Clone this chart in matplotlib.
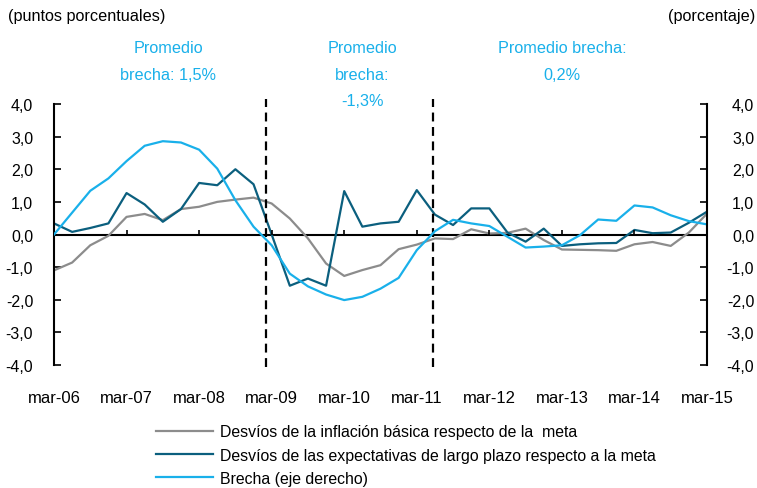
import matplotlib
matplotlib.use("Agg")
import matplotlib.pyplot as plt

plt.rcParams['font.family'] = ['Liberation Sans', 'DejaVu Sans']

# Quarterly data, mar-06 .. mar-15
tick_labels = ["mar-06", "mar-07", "mar-08", "mar-09", "mar-10",
               "mar-11", "mar-12", "mar-13", "mar-14", "mar-15"]

inflacion = [-1.10, -0.86, -0.33, -0.04, 0.54, 0.63, 0.44, 0.78, 0.85, 1.00,
             1.07, 1.13, 0.95, 0.49, -0.12, -0.89, -1.27, -1.09, -0.94, -0.45,
             -0.31, -0.12, -0.14, 0.16, 0.03, 0.05, 0.18, -0.17, -0.46, -0.47,
             -0.48, -0.50, -0.30, -0.23, -0.35, 0.06, 0.64]

expectativas = [0.34, 0.08, 0.20, 0.34, 1.27, 0.92, 0.39, 0.78, 1.58, 1.51,
                2.00, 1.54, 0.00, -1.57, -1.35, -1.57, 1.33, 0.24, 0.34, 0.39,
                1.36, 0.61, 0.29, 0.80, 0.80, 0.06, -0.22, 0.18, -0.35, -0.30,
                -0.27, -0.26, 0.14, 0.04, 0.06, 0.36, 0.70]

brecha = [0.00, 0.67, 1.34, 1.72, 2.25, 2.72, 2.86, 2.82, 2.60, 2.02,
          1.05, 0.24, -0.33, -1.20, -1.59, -1.84, -2.01, -1.91, -1.66, -1.33,
          -0.48, 0.10, 0.45, 0.34, 0.26, -0.07, -0.40, -0.37, -0.33, -0.02,
          0.46, 0.42, 0.89, 0.83, 0.59, 0.41, 0.31]

# period breaks (in quarters from mar-06)
cortes = [11.7, 20.9]
promedios = ["Promedio\nbrecha: 1,5%", "Promedio\nbrecha:\n-1,3%", "Promedio brecha:\n0,2%"]
prom_x = [6.3, 17.0, 28.0]

c_gris = "#8c8c8c"
c_oscuro = "#0b5f7e"
c_claro = "#19b0ea"

x = list(range(len(brecha)))

fig = plt.figure(figsize=(7.57, 4.89), dpi=100)
ax = fig.add_axes([54/757, (489-366)/489, (707-54)/757, 261/489])
ax2 = ax.twinx()

l1, = ax.plot(x, inflacion, color=c_gris, lw=1.6)
l2, = ax.plot(x, expectativas, color=c_oscuro, lw=1.6)
l3, = ax2.plot(x, brecha, color=c_claro, lw=1.6)

ytl = [f"{v:.1f}".replace(".", ",") for v in range(-4, 5)]
for a, pad in ((ax, 15), (ax2, 34)):
    a.set_ylim(-4, 4)
    a.set_xlim(0, 36)
    a.set_yticks(range(-4, 5))
    a.set_yticklabels(ytl, fontsize=11.5)
    a.tick_params(axis='y', direction='in', length=5, width=1.2, pad=pad)
    for s in ("top", "bottom"):
        a.spines[s].set_visible(False)
for t in ax2.get_yticklabels():
    t.set_horizontalalignment("right")
ax.spines['right'].set_visible(False)
ax2.spines['left'].set_visible(False)
ax.spines['left'].set_linewidth(1.5)
ax2.spines['right'].set_linewidth(1.5)

# zero line with quarter ticks
ax.axhline(0, color="black", lw=1.5, zorder=1)
ax.set_xticks([])
tick_pos = list(range(0, 37, 4))
ax.vlines(tick_pos, 0, 0.15, color="black", lw=1.2)
for p, lab in zip(tick_pos, tick_labels):
    ax.text(p, -5.0, lab, ha="center", va="center", fontsize=12, clip_on=False)

for c in cortes:
    ax.plot([c, c], [-4.05, 4.15], color="black", lw=1.6, ls=(0, (4, 2.5)), clip_on=False, zorder=5)

for px, txt in zip(prom_x, promedios):
    ax.text(px, 5.95, txt, ha="center", va="top", fontsize=11.7, color=c_claro,
            linespacing=1.95, clip_on=False)

fig.text(8/757, 1 - 17/489, "(puntos porcentuales)", ha="left", va="center", fontsize=11.7)
fig.text(755/757, 1 - 17/489, "(porcentaje)", ha="right", va="center", fontsize=11.7)

fig.legend([l1, l2, l3],
           ["Desvíos de la inflación básica respecto de la  meta",
            "Desvíos de las expectativas de largo plazo respecto a la meta",
            "Brecha (eje derecho)"],
           loc="upper left", bbox_to_anchor=(150/757, 1 - 419/489), frameon=False,
           fontsize=11.4, handlelength=3.6, handletextpad=0.4, labelspacing=0.52,
           borderaxespad=0)

fig.savefig("out.png", dpi=100)
